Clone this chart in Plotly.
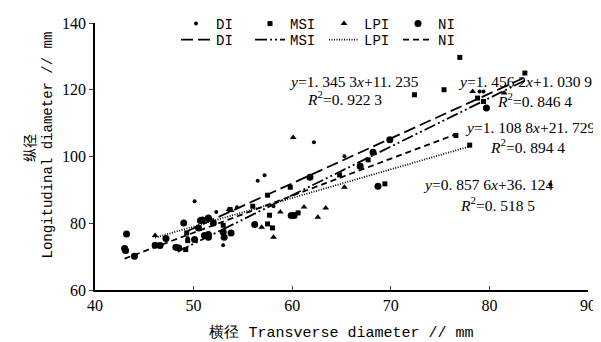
import plotly.graph_objects as go

# ---------------- data ----------------
di_x = [50.1, 62.2, 65.3, 79.0, 79.4, 57.2, 56.5, 52.3, 51.7, 53.0, 54.4, 58.1, 49.4, 86.2]
di_y = [86.6, 104.3, 100.1, 119.5, 119.5, 94.4, 92.7, 83.4, 81.4, 73.4, 84.8, 85.1, 75.6, 91.5]

msi_x = [77.0, 83.6, 72.4, 75.4, 67.7, 64.8, 69.4, 59.8, 57.5, 56.0, 53.7, 53.0, 57.5, 58.0,
         57.7, 60.6, 49.2, 48.4, 49.3, 49.4, 76.6, 78.0, 79.4, 78.8]
msi_y = [129.7, 125.0, 118.5, 120.0, 99.0, 94.5, 91.8, 90.8, 88.4, 85.1, 84.1, 79.4, 79.8, 78.6,
         82.4, 83.1, 72.1, 72.6, 77.1, 74.8, 106.3, 103.4, 116.5, 117.5]

lpi_x = [60.1, 78.3, 81.5, 65.3, 56.9, 58.1, 58.8, 61.2, 62.6, 63.4, 46.1, 53.6, 53.8]
lpi_y = [105.7, 119.5, 119.0, 90.8, 78.8, 75.8, 83.4, 84.9, 81.8, 84.6, 76.3, 84.1, 83.8]

ni_x = [69.9, 68.2, 66.9, 61.8, 68.7, 59.9, 60.2, 56.2, 51.5, 51.5, 53.0, 53.8, 43.2, 43.0,
        43.1, 44.0, 46.1, 46.6, 47.2, 48.2, 48.5, 49.0, 50.7, 50.9, 50.1, 51.1, 51.5, 52.0,
        50.5, 53.1, 79.7]
ni_y = [105.0, 101.3, 97.1, 93.8, 91.1, 82.3, 82.3, 79.6, 81.6, 76.6, 77.4, 77.1, 76.8, 72.4,
        71.8, 70.1, 73.4, 73.3, 75.4, 72.8, 72.6, 80.1, 80.8, 81.0, 75.1, 76.3, 75.8, 80.1,
        78.6, 75.8, 114.5]

fit_names = ["DI", "MSI", "LPI", "NI"]
fit_slope = [1.3453, 1.4562, 0.8576, 1.1088]
fit_intercept = [11.235, 1.0309, 36.124, 21.729]
fit_xmin = [49.4, 48.4, 46.1, 43.0]
fit_xmax = [83.6, 83.6, 78.0, 77.0]

eq_text = ["<i>y</i>=1. 345 3<i>x</i>+11. 235", "<i>y</i>=1. 456 2<i>x</i>+1. 030 9",
           "<i>y</i>=0. 857 6<i>x</i>+36. 124", "<i>y</i>=1. 108 8<i>x</i>+21. 729"]
r2_text = ["<i>R</i><sup>2</sup>=0. 922 3", "<i>R</i><sup>2</sup>=0. 846 4",
           "<i>R</i><sup>2</sup>=0. 518 5", "<i>R</i><sup>2</sup>=0. 894 4"]

x_ticks = [40, 50, 60, 70, 80, 90]
y_ticks = [60, 80, 100, 120, 140]

# ---------------- figure ----------------
SERIF = "Liberation Serif"
MONO = "Liberation Mono"
W, H = 601, 342
L, R, T, B = 87, 21, 15, 60
PW, PH = W - L - R, H - T - B


def px_x(px):
    return (px - L) / PW


def px_y(py):
    return (H - B - py) / PH


fig = go.Figure()

series = [
    ("DI", di_x, di_y, "circle", 4),
    ("MSI", msi_x, msi_y, "square", 5),
    ("LPI", lpi_x, lpi_y, "triangle-up", 6),
    ("NI", ni_x, ni_y, "circle", 7),
]
for name, xs, ys, sym, size in series:
    fig.add_trace(go.Scatter(x=xs, y=ys, mode="markers", name=name,
                             marker=dict(symbol=sym, size=size, color="black"),
                             legend="legend"))

dashes = ["12px,5px", "12px,3px,2px,3px,2px,3px", "1px,1.5px", "6px,4px"]
for i, name in enumerate(fit_names):
    xs = [fit_xmin[i], fit_xmax[i]]
    ys = [fit_slope[i] * v + fit_intercept[i] for v in xs]
    fig.add_trace(go.Scatter(x=xs, y=ys, mode="lines", name=name,
                             line=dict(color="black", width=1.8, dash=dashes[i]),
                             legend="legend2"))

# equation annotations (pixel centres in the picture)
eq_pos = [(346, 73), (517, 73), (480, 177), (522, 120)]
r2_pos = [(336, 90), (526, 92), (489, 196), (519, 138)]
for i in range(4):
    fig.add_annotation(x=px_x(eq_pos[i][0]), y=px_y(eq_pos[i][1]), text=eq_text[i],
                       showarrow=False, xref="paper", yref="paper",
                       xanchor="center", yanchor="middle",
                       font=dict(family=SERIF, size=15.5, color="black"))
    fig.add_annotation(x=px_x(r2_pos[i][0]), y=px_y(r2_pos[i][1]), text=r2_text[i],
                       showarrow=False, xref="paper", yref="paper",
                       xanchor="center", yanchor="middle",
                       font=dict(family=SERIF, size=15.5, color="black"))

# y-axis title, two rotated lines
fig.add_annotation(x=px_x(21), y=px_y(140), xref="paper", yref="paper", text="纵径",
                   textangle=-90, showarrow=False, xanchor="center", yanchor="middle",
                   font=dict(family="Noto Sans CJK SC", size=14, color="black"))
fig.add_annotation(x=px_x(39), y=px_y(137.5), xref="paper", yref="paper",
                   text="Longitudinal diameter // mm", textangle=-90, showarrow=False,
                   xanchor="center", yanchor="middle",
                   font=dict(family=MONO, size=14, color="black"))

legend_common = dict(orientation="h", xref="paper", yref="paper", xanchor="left",
                     yanchor="top", entrywidth=29, entrywidthmode="pixels",
                     font=dict(family=MONO, size=14), bgcolor="rgba(0,0,0,0)", itemwidth=30)

fig.update_layout(
    width=W, height=H,
    margin=dict(l=L, r=R, t=T, b=B, autoexpand=False),
    paper_bgcolor="white", plot_bgcolor="white",
    font=dict(family=SERIF, size=15, color="black"),
    xaxis=dict(range=[40, 90], tickvals=x_ticks, ticks="inside", ticklen=4, tickwidth=1.2,
               showline=True, linecolor="black", linewidth=1.5, showgrid=False, zeroline=False,
               tickfont=dict(family=SERIF, size=16),
               title=dict(text="横径 Transverse diameter // mm",
                          font=dict(family=MONO, size=15), standoff=14)),
    yaxis=dict(range=[60, 140], tickvals=y_ticks, ticks="outside", ticklen=4, tickwidth=1.2,
               showline=True, linecolor="black", linewidth=1.5, showgrid=False, zeroline=False,
               tickfont=dict(family=SERIF, size=16)),
    legend=dict(legend_common, x=px_x(168), y=px_y(0)),
    legend2=dict(legend_common, x=px_x(168), y=px_y(16)),
)

fig.write_html("out.html")
